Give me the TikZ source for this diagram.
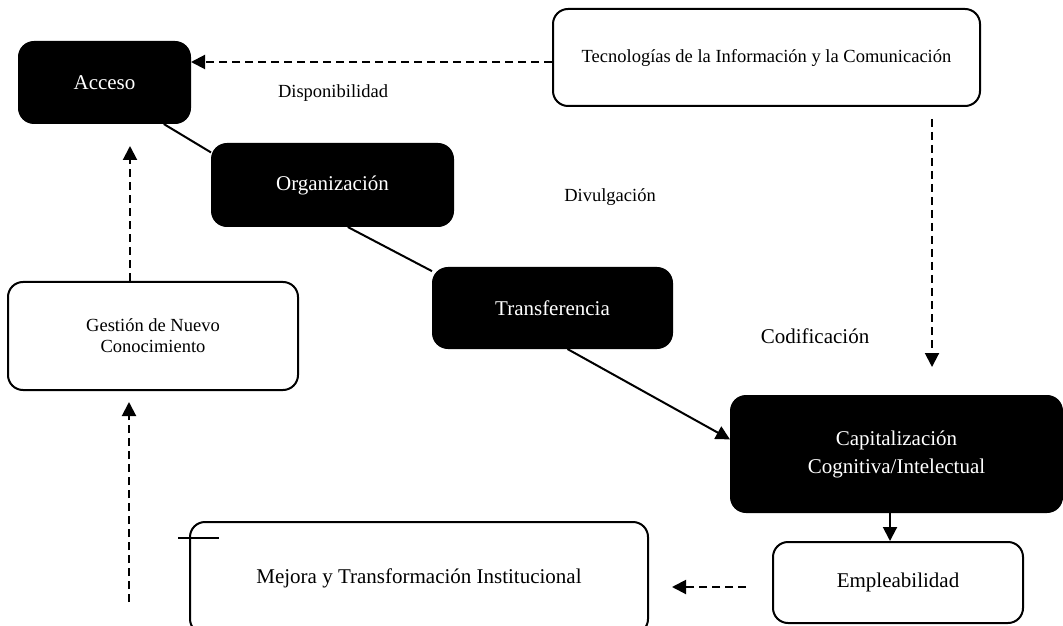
\documentclass[tikz,border=0pt]{standalone}
\usepackage{fontspec}
\setmainfont{Liberation Serif}
\usetikzlibrary{arrows.meta}

\begin{document}
\begin{tikzpicture}[x=0.5pt,y=-0.5pt,
  big/.style={font=\fontsize{10.5}{14}\selectfont},
  small/.style={font=\fontsize{9.25}{10.5}\selectfont},
  dark/.style={draw,line width=1pt,fill=black,text=white,rounded corners=7.5pt,align=center,inner sep=0pt,big},
  light/.style={draw,line width=1pt,fill=white,rounded corners=7.5pt,align=center,inner sep=0pt},
  link/.style={line width=1pt},
  solidarrow/.style={line width=1pt,-{Triangle[length=7pt,width=7pt]}},
  dasharrow/.style={line width=1pt,dash pattern=on 4pt off 2.5pt,-{Triangle[length=7pt,width=7pt]}}]
\path[use as bounding box,clip] (0,0) rectangle (1063,625);

\node[dark,minimum width=85.5pt,minimum height=40.5pt] (acceso) at (104.5,82.5) {Acceso};
\node[dark,minimum width=120.5pt,minimum height=41pt] (organizacion) at (332.5,185) {Organización};
\node[dark,minimum width=119.5pt,minimum height=40pt] (transferencia) at (552.5,308) {Transferencia};
\node[dark,minimum width=165.5pt,minimum height=58pt] (capitalizacion) at (896.5,454) {Capitalización\\Cognitiva/Intelectual};

\node[light,small,minimum width=213.5pt,minimum height=48.5pt] (tic) at (766.5,57.5) {Tecnologías de la Información y la Comunicación};
\node[light,small,minimum width=145pt,minimum height=54pt] (gestion) at (153,336) {Gestión de Nuevo\\Conocimiento};
\node[light,big,minimum width=229pt,minimum height=56pt] (mejora) at (419,578) {Mejora y Transformación Institucional};
\node[light,big,minimum width=125pt,minimum height=40.5pt] (empleabilidad) at (898,582.5) {Empleabilidad};

\node[small] (disponibilidad) at (333,93) {Disponibilidad};
\node[small] (divulgacion) at (610,197) {Divulgación};
\node[big] (codificacion) at (815,336) {Codificación};

\coordinate (ticdown) at (932,119);
\coordinate (capup) at (932,367);
\coordinate (accesobelow) at (130,146);
\coordinate (gestionlow) at (129,602);
\coordinate (gestionbelow) at (129,402);
\coordinate (empleft) at (746,587);
\coordinate (mejoraright) at (672,587);

\draw[dasharrow] ([yshift=-2.25pt]tic.west) -- ([yshift=10.25pt]acceso.east);
\draw[link] (acceso.-35) -- (organizacion.165);
\draw[link] (organizacion.-70) -- (transferencia.163);
\draw[solidarrow] (transferencia.-70) -- (capitalizacion.175);
\draw[dasharrow] (ticdown) -- (capup);
\draw[dasharrow] (gestion.north -| accesobelow) -- (accesobelow);
\draw[dasharrow] (gestionlow) -- (gestionbelow);
\draw[solidarrow] ([xshift=-3.25pt]capitalizacion.south) -- ([xshift=-4pt]empleabilidad.north);
\draw[dasharrow] (empleft) -- (mejoraright);
\draw[link] (178,538) -- (219,538);
\end{tikzpicture}
\end{document}
